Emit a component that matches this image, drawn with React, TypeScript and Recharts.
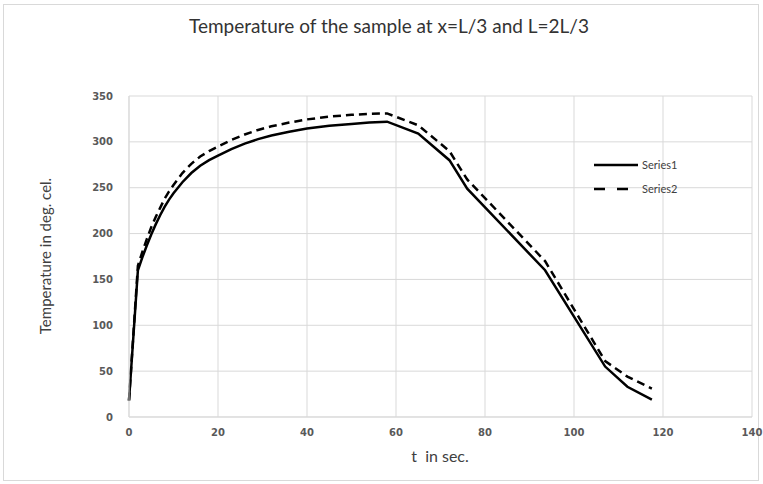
import { CartesianGrid, Line, LineChart, XAxis, YAxis } from "recharts";

// time in seconds
const time = [
  0, 2, 3, 4, 5, 6, 7, 8, 9, 10, 12, 14, 16, 18, 20, 23, 26, 29, 32, 36, 40, 45, 50, 54, 58,
  65, 72, 76, 93.5, 107, 112, 117.5,
];
// temperature at x = L/3
const series1 = [
  18, 160, 174, 187, 199, 210, 220, 229, 237, 244, 256, 266, 274, 280, 285, 292, 298, 303, 307, 311, 314.5,
  317.5, 319.5, 321, 322, 309, 280, 249, 160, 55, 33, 19,
];
// temperature at x = 2L/3
const series2 = [
  18, 165, 180, 194, 207, 218, 228, 238, 246, 253, 266, 276, 284, 290, 295, 302, 308, 313, 317, 321, 324.5,
  327.5, 329.5, 330.5, 331, 318, 290, 259, 170, 61, 44, 31,
];

const xTicks = [0, 20, 40, 60, 80, 100, 120, 140];
const yTicks = [0, 50, 100, 150, 200, 250, 300, 350];

const data = time.map((t, i) => ({ t, s1: series1[i], s2: series2[i] }));

const grid = "#d9d9d9";
const ink = "#000000";
const text = "#595959";
const font = "Lato, 'Open Sans', sans-serif";

export default function App() {
  const tick = { fill: text, fontSize: 10, fontWeight: 700, fontFamily: "'DejaVu Sans', sans-serif" };
  return (
    <div
      style={{
        position: "absolute",
        left: 0,
        top: 0,
        width: 763,
        height: 484,
        background: "#fff",
        fontFamily: font,
      }}
    >
      <div
        style={{
          position: "absolute",
          left: 3,
          top: 4,
          width: 756,
          height: 477,
          border: "1px solid #d9d9d9",
          boxSizing: "border-box",
        }}
      />
      <div
        style={{
          position: "absolute",
          left: 0,
          width: 778,
          top: 14,
          textAlign: "center",
          fontSize: 19,
          color: "#333333",
        }}
      >
        Temperature of the sample at x=L/3 and L=2L/3
      </div>
      <div
        style={{
          position: "absolute",
          left: 45,
          top: 256,
          transform: "translate(-50%, -50%) rotate(-90deg)",
          whiteSpace: "nowrap",
          fontSize: 15,
          color: "#404040",
        }}
      >
        Temperature in deg. cel.
      </div>
      <div
        style={{
          position: "absolute",
          left: 440,
          top: 455,
          transform: "translate(-50%, -50%)",
          whiteSpace: "pre",
          fontSize: 16,
          color: "#404040",
        }}
      >
        {"t  in sec."}
      </div>
      <div style={{ position: "absolute", left: 0, top: 0 }}>
        <LineChart width={763} height={484} data={data} margin={{ top: 96, right: 11, bottom: 37, left: 89 }}>
          <CartesianGrid stroke={grid} />
          <XAxis
            dataKey="t"
            type="number"
            domain={[0, 140]}
            ticks={xTicks}
            tick={tick}
            stroke={grid}
            tickLine={false}
            tickMargin={6}
            height={30}
            interval={0}
          />
          <YAxis
            type="number"
            domain={[0, 350]}
            ticks={yTicks}
            tick={tick}
            stroke={grid}
            tickLine={false}
            tickMargin={10}
            width={40}
            interval={0}
          />
          <Line
            type="linear"
            dataKey="s1"
            name="Series1"
            stroke={ink}
            strokeWidth={2.5}
            dot={false}
            isAnimationActive={false}
          />
          <Line
            type="linear"
            dataKey="s2"
            name="Series2"
            stroke={ink}
            strokeWidth={2.5}
            strokeDasharray="8 5"
            dot={false}
            isAnimationActive={false}
          />
        </LineChart>
      </div>
      <svg style={{ position: "absolute", left: 590, top: 155 }} width={120} height={45}>
        <line x1={4} x2={48} y1={10} y2={10} stroke={ink} strokeWidth={2.5} />
        <text x={52} y={14} fontSize={11} fill="#404040" fontFamily={font}>
          Series1
        </text>
        <line x1={4} x2={38} y1={34} y2={34} stroke={ink} strokeWidth={2.5} strokeDasharray="11 12" />
        <text x={52} y={38} fontSize={11} fill="#404040" fontFamily={font}>
          Series2
        </text>
      </svg>
    </div>
  );
}
